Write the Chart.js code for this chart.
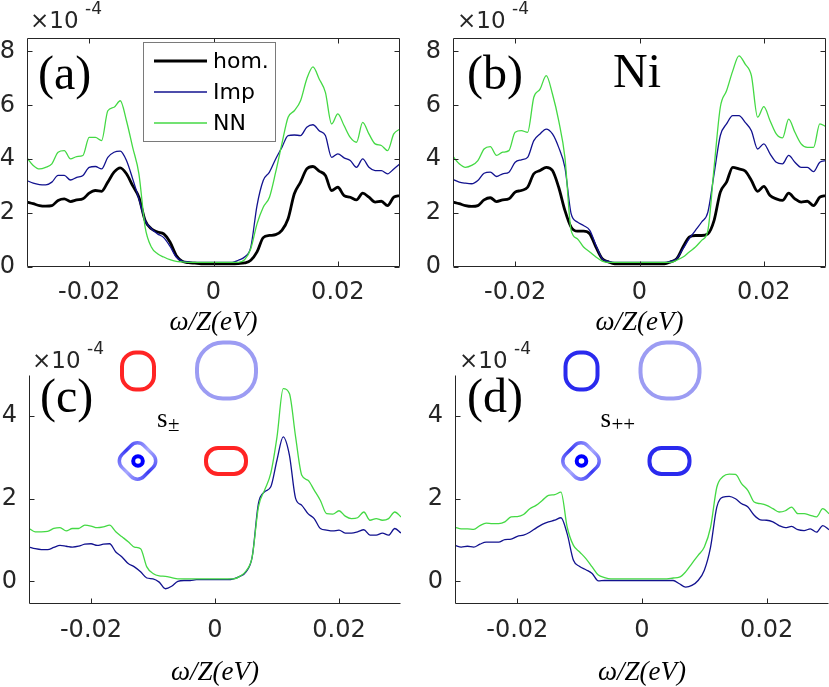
<!DOCTYPE html>
<html><head><meta charset="utf-8">
<script src="https://cdn.jsdelivr.net/npm/chart.js@4.4.1/dist/chart.umd.min.js"></script>
<style>
html,body{margin:0;padding:0;background:#fff;}
#wrap{position:relative;width:829px;height:687px;overflow:hidden;background:#fff;}
canvas{position:absolute;display:block;}
</style></head><body><div id="wrap">
<canvas id="ca" width="412" height="340" style="left:0;top:0;width:412px;height:340px"></canvas>
<canvas id="cb" width="417" height="340" style="left:412px;top:0;width:417px;height:340px"></canvas>
<canvas id="cc" width="412" height="347" style="left:0;top:340px;width:412px;height:347px"></canvas>
<canvas id="cd" width="417" height="347" style="left:412px;top:340px;width:417px;height:347px"></canvas>
</div>
<script>
// ---------- data (values in units of 1e-4) ----------
const omega = [-0.030,-0.029,-0.028,-0.027,-0.026,-0.025,-0.024,-0.023,-0.022,-0.021,
  -0.020,-0.019,-0.018,-0.017,-0.016,-0.015,-0.014,-0.013,-0.012,-0.011,
  -0.010,-0.009,-0.008,-0.007,-0.006,-0.005,-0.004,-0.003,-0.002,-0.001,
  0.000,0.001,0.002,0.003,0.004,0.005,0.006,0.007,0.008,0.009,
  0.010,0.011,0.012,0.013,0.014,0.015,0.016,0.017,0.018,0.019,
  0.020,0.021,0.022,0.023,0.024,0.025,0.026,0.027,0.028,0.029,0.030];

const seriesLabels = ['hom.', 'Imp', 'NN'];

const homA = [2.41,2.35,2.28,2.26,2.28,2.47,2.53,2.43,2.49,2.53, 2.74,2.84,2.81,3.15,3.52,3.68,3.46,3.02,2.59,1.73,
  1.42,1.30,1.23,0.93,0.43,0.21,0.16,0.14,0.12,0.12, 0.12,0.12,0.12,0.12,0.13,0.15,0.25,0.56,1.09,1.17,
  1.20,1.36,1.79,2.72,3.15,3.64,3.73,3.56,3.40,2.84, 2.96,2.65,2.59,2.49,2.74,2.59,2.41,2.44,2.28,2.59, 2.65];
const impA = [3.21,3.11,3.06,3.05,3.15,3.40,3.40,3.23,3.33,3.40, 3.70,3.73,3.64,4.07,4.26,4.30,3.95,3.27,2.53,1.73,
  1.42,1.23,1.09,0.77,0.37,0.22,0.19,0.17,0.17,0.17, 0.17,0.17,0.17,0.17,0.25,0.37,0.74,2.28,3.21,3.52,
  4.01,4.44,4.88,4.90,4.88,5.19,5.28,5.06,4.88,4.07, 4.20,4.05,3.95,3.70,4.01,3.70,3.58,3.58,3.46,3.64, 3.83];
const nnA = [4.05,3.77,3.64,3.70,3.83,4.26,4.32,4.01,4.10,4.14, 4.81,4.81,4.69,5.80,5.93,6.17,5.43,4.44,3.46,1.48,
  0.74,0.49,0.37,0.27,0.21,0.19,0.17,0.17,0.17,0.17, 0.17,0.17,0.17,0.17,0.17,0.27,0.68,1.60,2.22,2.59,
  3.52,4.57,5.56,5.80,6.17,6.98,7.43,6.98,6.48,5.31, 5.68,5.25,4.81,4.63,5.37,4.94,4.57,4.51,4.32,4.94, 5.12];

const homB = [2.41,2.35,2.28,2.25,2.28,2.49,2.57,2.43,2.49,2.53, 2.78,2.84,2.96,3.46,3.58,3.70,3.58,2.96,2.10,1.48,
  1.33,1.33,1.23,0.74,0.31,0.19,0.12,0.12,0.12,0.12, 0.12,0.12,0.12,0.12,0.12,0.19,0.31,0.74,1.11,1.17,
  1.17,1.23,1.73,2.78,3.15,3.70,3.64,3.56,3.21,2.81, 2.99,2.65,2.53,2.47,2.74,2.53,2.41,2.44,2.28,2.59, 2.65];
const impB = [3.25,3.15,3.11,3.09,3.21,3.48,3.52,3.36,3.46,3.52, 3.89,3.98,4.07,4.69,4.94,5.12,4.94,4.44,3.70,1.98,
  1.67,1.54,1.36,0.80,0.31,0.21,0.17,0.17,0.17,0.17, 0.17,0.17,0.17,0.17,0.17,0.21,0.31,0.68,1.05,1.36,
  1.67,2.04,3.46,4.88,5.31,5.62,5.62,5.37,5.06,4.38, 4.57,4.20,3.89,3.83,4.14,3.89,3.70,3.70,3.54,3.89, 3.95];
const nnB = [4.10,3.83,3.70,3.77,3.95,4.38,4.47,4.14,4.26,4.32, 5.00,5.06,5.00,6.30,6.60,7.10,6.42,5.43,4.07,1.36,
  1.05,0.74,0.56,0.37,0.22,0.17,0.17,0.17,0.17,0.17, 0.17,0.17,0.17,0.17,0.17,0.17,0.25,0.37,0.56,0.74,
  0.99,1.36,3.70,5.93,6.54,7.28,7.84,7.53,7.10,5.56, 5.95,5.43,4.94,4.79,5.49,5.00,4.57,4.44,4.44,5.31, 5.21];

const impC = [0.83,0.79,0.77,0.77,0.82,0.87,0.85,0.83,0.85,0.90, 0.91,0.87,0.90,0.91,0.71,0.59,0.43,0.35,0.23,0.08,
  0.06,-0.02,-0.18,-0.12,0.00,0.02,0.02,0.04,0.04,0.04, 0.04,0.04,0.04,0.06,0.12,0.23,0.59,1.88,2.17,2.29,
  2.94,3.50,3.06,2.01,1.84,1.64,1.52,1.28,1.24,1.22, 1.24,1.17,1.17,1.20,1.25,1.12,1.12,1.17,1.12,1.28, 1.17];
const nnC = [1.28,1.20,1.20,1.21,1.28,1.30,1.22,1.28,1.28,1.36, 1.34,1.30,1.32,1.36,1.20,1.08,0.96,0.83,0.79,0.35,
  0.19,0.13,0.12,0.09,0.06,0.06,0.06,0.06,0.06,0.06, 0.06,0.06,0.06,0.06,0.12,0.25,0.59,1.80,2.21,2.62,
  3.50,4.67,4.55,3.50,2.57,2.45,2.21,1.96,1.64,1.63, 1.71,1.58,1.52,1.54,1.68,1.48,1.52,1.48,1.52,1.68, 1.56];

const impD = [0.87,0.83,0.85,0.83,0.90,0.95,0.95,0.95,1.01,1.02, 1.09,1.12,1.19,1.29,1.38,1.44,1.48,1.54,1.15,0.51,
  0.36,0.28,0.19,0.01,0.02,0.02,0.02,0.02,0.02,0.02, 0.02,0.02,0.02,0.02,0.02,0.02,-0.06,-0.14,-0.10,0.02,
  0.27,0.83,1.80,2.04,2.06,2.00,1.88,1.80,1.60,1.49, 1.48,1.44,1.35,1.30,1.33,1.25,1.23,1.27,1.19,1.35, 1.25];
const nnD = [1.31,1.27,1.27,1.26,1.35,1.41,1.40,1.40,1.44,1.56, 1.57,1.62,1.76,1.84,1.96,2.08,2.10,2.16,1.31,0.87,
  0.71,0.55,0.35,0.15,0.09,0.06,0.06,0.06,0.06,0.06, 0.06,0.06,0.06,0.06,0.06,0.08,0.10,0.23,0.43,0.63,
  0.83,1.31,2.28,2.54,2.60,2.59,2.36,2.20,1.92,1.88, 1.84,1.76,1.68,1.71,1.80,1.64,1.64,1.60,1.56,1.76, 1.64];

const xTicks = [-0.02, 0, 0.02];
const yTicksTop = [0, 2, 4, 6, 8];
const yTicksBottom = [0, 2, 4];

// ---------- styles ----------
const SANS = "'DejaVu Sans', sans-serif";
const SERIF = "'Liberation Serif', 'Times New Roman', serif";
const TXT = '#262626';
const styles = {
  'hom.': {color: '#000000', width: 2.8, order: 3},
  'Imp':  {color: '#12128f', width: 1.3, order: 2},
  'NN':   {color: '#44d944', width: 1.3, order: 1}
};

function ds(label, arr) {
  const s = styles[label];
  return {
    label, data: omega.map((x, i) => ({x, y: arr[i]})),
    borderColor: s.color, backgroundColor: s.color, borderWidth: s.width,
    pointRadius: 0, fill: false, order: s.order, cubicInterpolationMode: 'monotone'
  };
}

function rr(ctx, cx, cy, w, h, r) {
  const x = cx - w / 2, y = cy - h / 2;
  ctx.beginPath();
  ctx.moveTo(x + r, y);
  ctx.lineTo(x + w - r, y); ctx.arcTo(x + w, y, x + w, y + r, r);
  ctx.lineTo(x + w, y + h - r); ctx.arcTo(x + w, y + h, x + w - r, y + h, r);
  ctx.lineTo(x + r, y + h); ctx.arcTo(x, y + h, x, y + h - r, r);
  ctx.lineTo(x, y + r); ctx.arcTo(x, y, x + r, y, r);
  ctx.closePath();
}

const decor = {
  id: 'decor',
  afterDraw(chart, args, o) {
    const {ctx, chartArea: a, scales: {x, y}} = chart;
    ctx.save();
    // axes / box
    ctx.strokeStyle = TXT; ctx.lineWidth = 1;
    const L = Math.round(a.left) + 0.5, R = Math.round(a.right) - 0.5;
    const T = Math.round(a.top) + 0.5, B = Math.round(a.bottom) - 0.5;
    ctx.beginPath();
    if (o.box) {
      ctx.rect(L, T, R - L, B - T);
    } else {
      ctx.moveTo(L, T); ctx.lineTo(L, B); ctx.lineTo(R, B);
    }
    ctx.stroke();
    // inward ticks
    const tl = 5;
    ctx.beginPath();
    x.ticks.forEach(t => {
      const px = Math.round(x.getPixelForValue(t.value)) + 0.5;
      ctx.moveTo(px, B); ctx.lineTo(px, B - tl);
      if (o.box) { ctx.moveTo(px, T); ctx.lineTo(px, T + tl); }
    });
    y.ticks.forEach(t => {
      const py = Math.round(y.getPixelForValue(t.value)) + 0.5;
      ctx.moveTo(L, py); ctx.lineTo(L + tl, py);
      if (o.box) { ctx.moveTo(R, py); ctx.lineTo(R - tl, py); }
    });
    ctx.stroke();

    // exponent label
    ctx.fillStyle = TXT;
    ctx.textBaseline = 'alphabetic'; ctx.textAlign = 'left';
    ctx.font = '23px ' + SANS;
    ctx.fillText('\u00d710', o.expX, o.expY);
    ctx.font = '17px ' + SANS;
    ctx.fillText('-4', o.expX + 55, o.expY - 14);

    // panel label
    ctx.fillStyle = '#000';
    ctx.font = '48px ' + SERIF;
    ctx.fillText(o.panel, o.panelX, o.panelY);
    if (o.extra) ctx.fillText(o.extra.text, o.extra.x, o.extra.y);

    // legend
    if (o.legend) {
      const lg = o.legend;
      ctx.fillStyle = '#fff';
      ctx.fillRect(lg.x, lg.y, lg.w, lg.h);
      ctx.strokeStyle = '#7a7a7a'; ctx.lineWidth = 1;
      ctx.strokeRect(lg.x + 0.5, lg.y + 0.5, lg.w, lg.h);
      ctx.font = '22px ' + SANS;
      ctx.textBaseline = 'middle';
      chart.data.datasets.forEach((d, i) => {
        const yy = lg.y + lg.row0 + i * lg.rowH;
        ctx.strokeStyle = d.borderColor; ctx.lineWidth = d.borderWidth;
        ctx.beginPath(); ctx.moveTo(lg.x + 11, yy); ctx.lineTo(lg.x + 64, yy); ctx.stroke();
        ctx.fillStyle = '#000';
        ctx.fillText(d.label, lg.x + 70, yy + 1);
      });
    }

    // Fermi-surface inset
    if (o.inset) {
      const s = o.inset;
      ctx.lineWidth = 4;
      ctx.lineJoin = 'round';
      ctx.strokeStyle = s.c1; rr(ctx, s.dx + 138, 31, 32, 37, 14); ctx.stroke();
      ctx.strokeStyle = '#9c9cf3'; rr(ctx, s.dx + 226.5, 30.5, 59, 56, 26); ctx.stroke();
      ctx.strokeStyle = s.c1; rr(ctx, s.dx + 226, 121, 40, 26, 12); ctx.stroke();
      // diamond pocket
      ctx.save();
      ctx.translate(s.dx + 137.5, 121);
      ctx.rotate(Math.PI / 4);
      let g;
      if (ctx.createConicGradient) {
        g = ctx.createConicGradient(0, 0, 0);
        g.addColorStop(0, '#3a3af5'); g.addColorStop(0.25, '#a8a8ff');
        g.addColorStop(0.5, '#3a3af5'); g.addColorStop(0.75, '#a8a8ff'); g.addColorStop(1, '#3a3af5');
      } else { g = '#6a6af8'; }
      ctx.strokeStyle = g; ctx.lineWidth = 3.5;
      rr(ctx, 0, 0, 31, 31, 9); ctx.stroke();
      ctx.restore();
      ctx.strokeStyle = '#0000ff'; ctx.lineWidth = 4;
      ctx.beginPath(); ctx.arc(s.dx + 138, 121, 4.8, 0, Math.PI * 2); ctx.stroke();
      // pairing label
      ctx.fillStyle = '#000';
      ctx.font = '27px ' + SERIF;
      ctx.textBaseline = 'alphabetic';
      ctx.fillText('s', s.dx + 157, 87);
      ctx.font = '21px ' + SERIF;
      ctx.fillText(s.sub, s.dx + 168, 91);
    }
    ctx.restore();
  }
};

function makePanel(id, datasets, p) {
  return new Chart(document.getElementById(id), {
    type: 'line',
    data: {datasets},
    plugins: [decor],
    options: {
      responsive: false, animation: false, devicePixelRatio: window.devicePixelRatio || 1,
      layout: {padding: {left: 0, top: p.padTop, right: p.padRight, bottom: 0}},
      plugins: {legend: {display: false}, tooltip: {enabled: false}, decor: p.decor},
      scales: {
        x: {
          type: 'linear', min: -0.03, max: 0.03,
          afterBuildTicks: s => { s.ticks = xTicks.map(v => ({value: v})); },
          afterFit: s => { s.height = p.xH; },
          grid: {display: false, drawTicks: false}, border: {display: false},
          ticks: {color: TXT, font: {family: SANS, size: 24}, padding: p.xPad, maxRotation: 0,
            callback: v => v === 0 ? '0' : String(v)},
          title: {display: true, text: '\u03c9/Z(eV)', color: '#000',
            font: {family: SERIF, size: 27, style: 'italic', lineHeight: 1},
            padding: {top: 0, bottom: p.titlePad}}
        },
        y: {
          type: 'linear', min: p.yMin, max: p.yMax,
          afterBuildTicks: s => { s.ticks = p.yTicks.map(v => ({value: v})); },
          afterFit: s => { s.width = p.yW; },
          grid: {display: false, drawTicks: false}, border: {display: false},
          ticks: {color: TXT, font: {family: SANS, size: 24}, padding: 12,
            callback: v => String(v)}
        }
      }
    }
  });
}

makePanel('ca', [ds('hom.', homA), ds('Imp', impA), ds('NN', nnA)], {
  padTop: 38, padRight: 12, xH: 73, yW: 27, xPad: 11, titlePad: 4, yMin: 0, yMax: 8.5, yTicks: yTicksTop,
  decor: {box: true, expX: 30, expY: 28, panel: '(a)', panelX: 38, panelY: 89,
    legend: {x: 143, y: 42, w: 132, h: 99, row0: 19, rowH: 31}}
});
makePanel('cb', [ds('hom.', homB), ds('Imp', impB), ds('NN', nnB)], {
  padTop: 38, padRight: 3, xH: 73, yW: 41, xPad: 11, titlePad: 4, yMin: 0, yMax: 8.5, yTicks: yTicksTop,
  decor: {box: true, expX: 45, expY: 28, panel: '(b)', panelX: 55, panelY: 89,
    extra: {text: 'Ni', x: 201, y: 87}}
});
makePanel('cc', [ds('Imp', impC), ds('NN', nnC)], {
  padTop: 35, padRight: 11, xH: 83, yW: 29, xPad: 12, titlePad: 1, yMin: -0.55, yMax: 5, yTicks: yTicksBottom,
  decor: {box: false, expX: 32, expY: 28, panel: '(c)', panelX: 40, panelY: 72,
    inset: {dx: 0, c1: '#ff2424', sub: '\u00b1'}}
});
makePanel('cd', [ds('Imp', impD), ds('NN', nnD)], {
  padTop: 35, padRight: 0, xH: 83, yW: 43, xPad: 12, titlePad: 1, yMin: -0.55, yMax: 5, yTicks: yTicksBottom,
  decor: {box: false, expX: 47, expY: 28, panel: '(d)', panelX: 55, panelY: 72,
    inset: {dx: 31.5, c1: '#2a2aee', sub: '++'}}
});
</script>
</body></html>
